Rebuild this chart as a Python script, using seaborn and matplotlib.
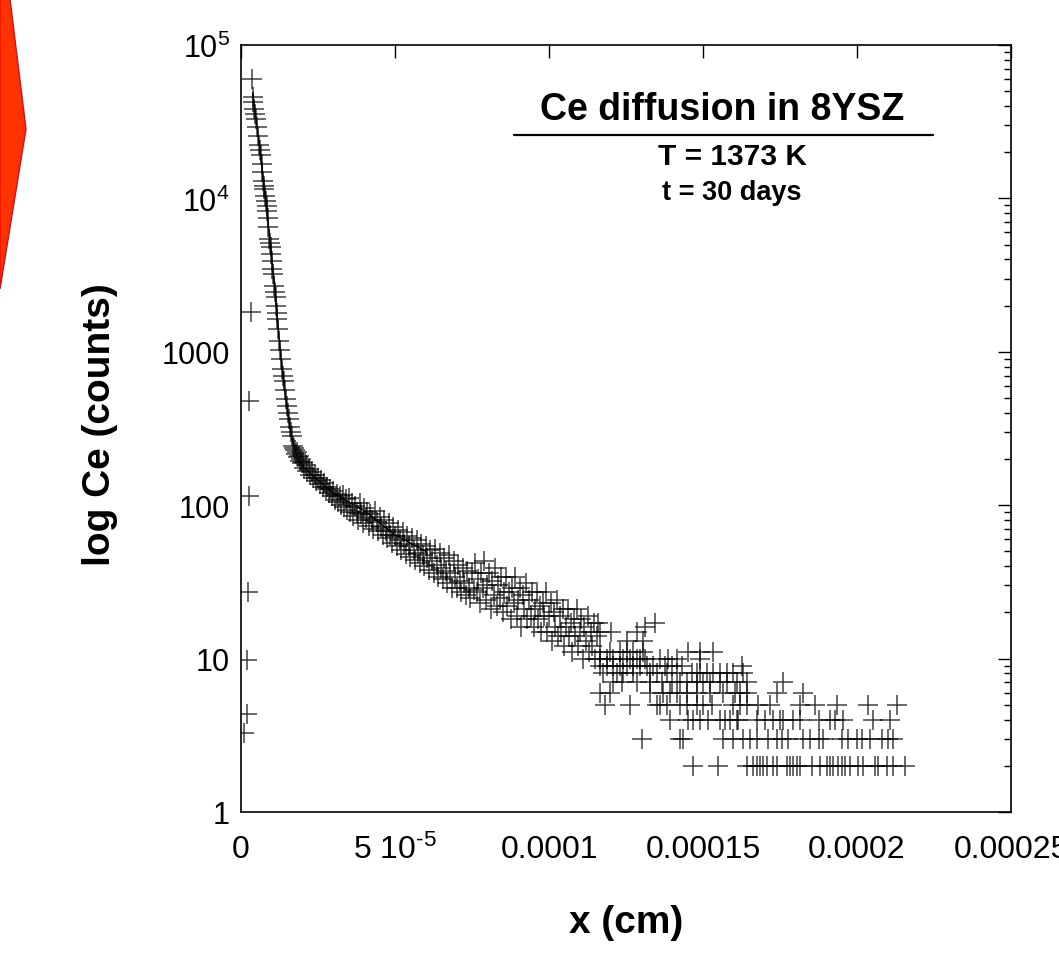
import pandas as pd
import seaborn as sns
import matplotlib.pyplot as plt
from matplotlib.patches import Polygon
from matplotlib.ticker import FixedLocator, FixedFormatter, LogLocator, NullFormatter, NullLocator

# profundidade em unidades de 1e-6 cm, contagens de Ce (SIMS)
X_UNIT = 1e-6

# pontos isolados perto da superficie
edge_x = [3.1, 2.6, 2.6, 2.3, 1.8, 1.8, 1.1]
edge_y = [1810, 478, 115, 27, 9.8, 4.35, 3.27]

# parte ingreme do perfil
steep_x = [3.5, 3.8, 4.0, 4.3, 4.6, 4.9, 5.3, 5.6, 5.9, 6.2, 6.4, 6.7, 6.9, 7.1, 7.4,
           7.6, 7.9, 8.1, 8.3, 8.5, 8.7, 8.9, 9.2, 9.4, 9.6, 9.8, 10.0, 10.2, 10.5, 10.7,
           11.0, 11.2, 11.4, 11.6, 11.8, 12.1, 12.4, 12.7, 12.9, 13.2, 13.6, 14.0, 14.3, 14.6, 14.9,
           15.2, 15.5, 15.8, 16.1, 16.5, 16.8, 17.1, 17.5, 17.8, 18.1, 18.5, 18.8, 19.2, 19.5, 19.8]
steep_y = [60000, 45600, 42700, 38300, 35500, 33000, 29000, 25600, 22300, 20600, 19200, 16700, 14800, 13000, 12100,
           11500, 10400, 9660, 8900, 8310, 7420, 6480, 5440, 5100, 4800, 4340, 3900, 3470, 3210, 2700,
           2450, 2270, 2000, 1800, 1640, 1410, 1180, 1020, 900, 773, 700, 648, 560, 492, 445,
           400, 365, 322, 300, 284, 244, 235, 228, 216, 222, 205, 210, 195, 200, 188]

# cauda (difusao por contornos de grao), x de 20 a 116
band_x = [20.0, 20.5, 21.0, 21.5, 22.0, 22.5, 23.0, 23.5, 24.0, 24.5, 25.0, 25.5, 26.0, 26.5, 27.0,
          27.5, 28.0, 28.5, 29.0, 29.5, 30.0, 30.5, 31.0, 31.5, 32.0, 32.5, 33.0, 33.5, 34.0, 34.5,
          35.0, 35.5, 36.0, 36.5, 37.0, 37.5, 38.0, 38.5, 39.0, 39.5, 40.0, 40.5, 41.0, 41.5, 42.0,
          42.5, 43.0, 43.5, 44.0, 44.5, 45.0, 45.5, 46.0, 46.5, 47.0, 47.5, 48.0, 48.5, 49.0, 49.5,
          50.0, 50.5, 51.0, 51.5, 52.0, 52.5, 53.0, 53.5, 54.0, 54.5, 55.0, 55.5, 56.0, 56.5, 57.0,
          57.5, 58.0, 58.5, 59.0, 59.5, 60.0, 60.5, 61.0, 61.5, 62.0, 62.5, 63.0, 63.5, 64.0, 64.5,
          65.0, 65.5, 66.0, 66.5, 67.0, 67.5, 68.0, 68.5, 69.0, 69.5, 70.0, 70.5, 71.0, 71.5, 72.0,
          72.5, 73.0, 73.5, 74.0, 74.5, 75.0, 75.5, 76.0, 76.5, 77.0, 77.5, 78.0, 78.5, 79.0, 79.5,
          80.0, 80.5, 81.0, 81.5, 82.0, 82.5, 83.0, 83.5, 84.0, 84.5, 85.0, 85.5, 86.0, 86.5, 87.0,
          87.5, 88.0, 88.5, 89.0, 89.5, 90.0, 90.5, 91.0, 91.5, 92.0, 92.5, 93.0, 93.5, 94.0, 94.5,
          95.0, 95.5, 96.0, 96.5, 97.0, 97.5, 98.0, 98.5, 99.0, 99.5, 100.0, 100.5, 101.0, 101.5, 102.0,
          102.5, 103.0, 103.5, 104.0, 104.5, 105.0, 105.5, 106.0, 106.5, 107.0, 107.5, 108.0, 108.5, 109.0, 109.5,
          110.0, 110.5, 111.0, 111.5, 112.0, 112.5, 113.0, 113.5, 114.0, 114.5, 115.0, 115.5, 116.0]
band_y = [190, 174, 182, 166, 172, 158, 165, 150, 158, 143, 151, 138, 146, 131, 139,
          127, 132, 120, 128, 114, 123, 108, 118, 105, 114, 101, 117, 97, 110, 93,
          112, 90, 104, 85, 99, 89, 80, 103, 87, 76, 96, 83, 90, 73, 87,
          80, 70, 92, 78, 68, 84, 72, 64, 80, 68, 61, 76, 64, 57, 72,
          63, 54, 69, 59, 51, 67, 56, 48, 63, 54, 46, 61, 51, 44, 59,
          49, 42, 56, 47, 40, 54, 45, 38, 51, 43, 36, 52, 41, 34, 49,
          39, 33, 45, 37, 31, 47, 36, 29, 43, 34, 29, 41, 32, 27, 39,
          31, 26, 37, 29, 25, 36, 28, 42, 27, 33, 23, 36, 29, 43, 24,
          30, 36, 21, 32, 26, 39, 22, 30, 25, 34, 20, 27, 34, 22, 27,
          18, 29, 23, 34, 19, 24, 29, 16, 26, 21, 31, 18, 24, 19, 27,
          16, 21, 27, 18, 22, 15, 23, 19, 27, 15, 19, 23, 13, 20, 16,
          24, 14, 19, 15, 21, 12, 16, 21, 14, 17, 11, 18, 14, 21, 12,
          15, 18, 10, 16, 13, 19, 11, 15, 12, 17, 10, 14, 17]

# fim da cauda: contagens inteiras, uma lista de profundidades por nivel
tail_levels = [2, 3, 4, 5, 6, 7, 8, 9, 10, 11, 13, 15, 16, 17]
tail_x = [
    [146.8, 154.9, 164.2, 166.3, 167.4, 168.5, 169.6, 170.7, 172.8, 173.9, 177.2, 178.3, 179.3, 180.4, 181.5, 185.3,
     188.0, 190.2, 191.2, 192.3, 193.9, 195.0, 196.1, 197.7, 200.4, 202.0, 205.8, 206.9, 209.6, 211.8, 215.7],
    [130.1, 142.5, 143.6, 156.6, 159.8, 163.1, 165.3, 167.4, 171.2, 173.9, 175.5, 177.7, 182.6, 184.8, 187.5, 189.1,
     195.0, 197.2, 199.9, 201.5, 204.2, 208.0, 210.2, 211.8],
    [139.3, 145.2, 146.9, 149.0, 151.7, 155.5, 157.2, 158.8, 160.9, 161.5, 167.4, 170.1, 172.8, 175.0, 176.1, 179.3,
     181.5, 187.5, 191.2, 192.9, 195.6, 205.3, 210.7],
    [118.2, 126.3, 135.0, 136.1, 138.2, 142.5, 144.7, 148.0, 150.1, 152.8, 159.8, 162.0, 164.2, 168.0, 171.8, 181.5,
     186.4, 193.4, 203.7, 212.9],
    [116.6, 119.8, 132.8, 137.0, 139.3, 141.5, 144.8, 148.0, 152.3, 156.5, 160.4, 162.0, 164.3, 174.0, 182.5],
    [120.8, 123.7, 128.6, 132.8, 136.7, 139.9, 142.5, 144.8, 148.0, 150.0, 152.3, 155.5, 157.8, 161.0, 164.3, 176.0],
    [117.5, 122.1, 124.0, 127.3, 132.8, 135.1, 138.3, 141.6, 146.4, 148.0, 149.0, 151.3, 153.3, 155.5, 157.8, 159.8, 163.0],
    [116.6, 118.8, 120.8, 123.1, 125.3, 127.3, 129.6, 131.8, 133.8, 137.7, 139.9, 143.2, 162.7],
    [116.6, 118.8, 120.8, 124.0, 126.3, 128.6, 129.6, 131.2, 136.1, 138.6, 141.6, 149.0],
    [116.6, 119.8, 123.1, 125.3, 127.3, 130.5, 145.1, 149.0, 153.3],
    [125.3, 130.5],
    [116.6, 120.0, 128.6],
    [131.2],
    [134.4],
]

# curva ajustada
fit_x = [3.8, 5, 6, 7, 8, 9, 10, 11, 12, 13, 14, 15, 16, 17, 18, 20, 22, 25, 30, 35, 40, 50, 60]
fit_y = [48000, 32000, 22000, 14500, 10000, 6400, 4100, 2600, 1500, 900, 600, 420, 310, 250, 215,
         180, 165, 145, 120, 105, 92, 64, 50]

x_ticks = [0, 5e-5, 1e-4, 1.5e-4, 2e-4, 2.5e-4]
x_tick_labels = ['0', '5 10$^{\\mathregular{\u20105}}$', '0.0001', '0.00015', '0.0002', '0.00025']
y_ticks = [1, 10, 100, 1000, 1e4, 1e5]
y_tick_labels = ['1', '10', '100', '1000', '10$^{\\mathregular{4}}$', '10$^{\\mathregular{5}}$']

# montar o DataFrame
rows_x = edge_x + steep_x + band_x
rows_y = edge_y + steep_y + band_y
for lvl, xs in zip(tail_levels, tail_x):
    rows_x += xs
    rows_y += [lvl] * len(xs)
df = pd.DataFrame({'x': [v * X_UNIT for v in rows_x], 'counts': rows_y})
fit_df = pd.DataFrame({'x': [v * X_UNIT for v in fit_x], 'counts': fit_y})

sns.set_theme(style='white')
plt.rcParams['font.family'] = ['Liberation Sans', 'DejaVu Sans']
plt.rcParams['mathtext.default'] = 'regular'
plt.rcParams['axes.unicode_minus'] = False
plt.rcParams['text.color'] = 'black'
plt.rcParams['axes.labelcolor'] = 'black'
plt.rcParams['xtick.color'] = 'black'
plt.rcParams['ytick.color'] = 'black'

fig = plt.figure(figsize=(10.59, 9.70), dpi=100)
ax = fig.add_axes([0.2276, 0.1619, 0.7271, 0.7907])

sns.lineplot(data=fit_df, x='x', y='counts', ax=ax, color='black', lw=1.0, sort=False, estimator=None)
sns.scatterplot(data=df, x='x', y='counts', ax=ax, marker='+', s=190, color='black',
                linewidth=1.1, alpha=0.75, zorder=3)

ax.set_yscale('log')
ax.set_xlim(0, 2.5e-4)
ax.set_ylim(1, 1e5)

ax.xaxis.set_major_locator(FixedLocator(x_ticks))
ax.xaxis.set_major_formatter(FixedFormatter(x_tick_labels))
ax.xaxis.set_minor_locator(NullLocator())
ax.yaxis.set_major_locator(FixedLocator(y_ticks))
ax.yaxis.set_major_formatter(FixedFormatter(y_tick_labels))
ax.yaxis.set_minor_locator(LogLocator(base=10, subs=range(2, 10)))
ax.yaxis.set_minor_formatter(NullFormatter())

ax.tick_params(which='both', direction='in', top=True, right=True, color='black', width=1)
ax.tick_params(which='major', length=9.5)
ax.tick_params(which='minor', length=5)
ax.tick_params(axis='y', labelsize=22, pad=8, labelcolor='black')
ax.tick_params(axis='x', labelsize=23, pad=16, labelcolor='black')
for lab in ax.get_xticklabels():
    lab.set_family(['Liberation Sans Narrow', 'Liberation Sans'])

for sp in ax.spines.values():
    sp.set_color('black')
    sp.set_linewidth(1.2)

ax.set_xlabel('x (cm)', fontsize=28, fontweight='bold', color='black')
ax.set_ylabel('log Ce (counts)', fontsize=28, fontweight='bold', color='black')
ax.xaxis.set_label_coords(0.5, -0.12)
ax.yaxis.set_label_coords(-0.16, 0.506)

ax.text(0.625, 0.917, 'Ce diffusion in 8YSZ', transform=ax.transAxes, ha='center', va='center',
        fontsize=27, fontweight='bold', color='black')
ax.plot([0.3545, 0.8987], [0.8827, 0.8827], transform=ax.transAxes, color='black', lw=1.6)
ax.text(0.6377, 0.855, 'T = 1373 K', transform=ax.transAxes, ha='center', va='center',
        fontsize=21.5, fontweight='bold', color='black')
ax.text(0.6377, 0.808, 't = 30 days', transform=ax.transAxes, ha='center', va='center',
        fontsize=19.5, fontweight='bold', color='black')

# seta vermelha cortada no canto
arrow = Polygon([(0, 1), (10 / 1059, 1), (26 / 1059, 1 - 130 / 970), (0, 1 - 290 / 970)],
                closed=True, transform=fig.transFigure, facecolor='#FF3300', edgecolor='#FF0000', lw=1)
fig.patches.append(arrow)

fig.savefig('out.png', dpi=100)
